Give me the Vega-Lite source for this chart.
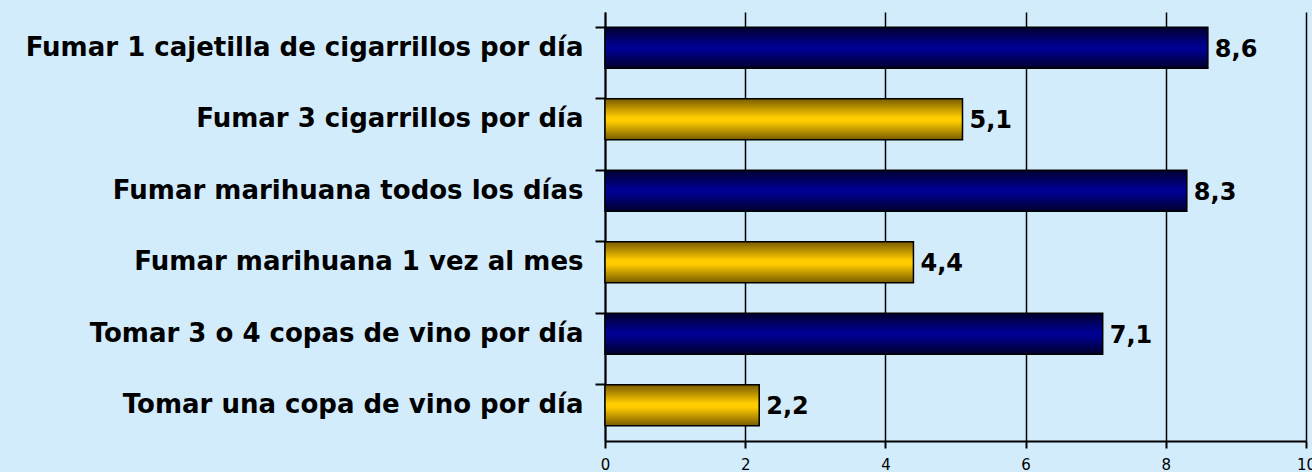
{
  "$schema": "https://vega.github.io/schema/vega-lite/v6.json",
  "autosize": "none",
  "width": 701,
  "height": 429,
  "padding": {"left": 605, "top": 12, "right": 6, "bottom": 31},
  "background": "#d3ecfc",
  "config": {
    "locale": {"number": {"decimal": ",", "thousands": ".", "grouping": [3], "currency": ["", " €"]}},
    "view": {"stroke": null},
    "font": "DejaVu Sans"
  },
  "data": {
    "values": [
      {"actividad": "Fumar 1 cajetilla de cigarrillos por día", "valor": 8.6, "grupo": "alto"},
      {"actividad": "Fumar 3 cigarrillos por día", "valor": 5.1, "grupo": "bajo"},
      {"actividad": "Fumar marihuana todos los días", "valor": 8.3, "grupo": "alto"},
      {"actividad": "Fumar marihuana 1 vez al mes", "valor": 4.4, "grupo": "bajo"},
      {"actividad": "Tomar 3 o 4 copas de vino por día", "valor": 7.1, "grupo": "alto"},
      {"actividad": "Tomar una copa de vino por día", "valor": 2.2, "grupo": "bajo"}
    ]
  },
  "encoding": {
    "y": {
      "field": "actividad",
      "type": "nominal",
      "sort": [
        "Fumar 1 cajetilla de cigarrillos por día",
        "Fumar 3 cigarrillos por día",
        "Fumar marihuana todos los días",
        "Fumar marihuana 1 vez al mes",
        "Tomar 3 o 4 copas de vino por día",
        "Tomar una copa de vino por día"
      ],
      "scale": {"paddingInner": 0.43, "paddingOuter": 0.215},
      "axis": {
        "title": null,
        "bandPosition": 0,
        "domainColor": "#000000",
        "domainWidth": 2,
        "tickColor": "#000000",
        "tickWidth": 2,
        "tickSize": 10,
        "labelPadding": 12,
        "labelFont": "DejaVu Sans",
        "labelFontWeight": "bold",
        "labelFontSize": 26,
        "labelColor": "#000000",
        "labelLimit": 700
      }
    },
    "x": {
      "field": "valor",
      "type": "quantitative",
      "scale": {"domain": [0, 10], "nice": false},
      "axis": {
        "title": null,
        "values": [0, 2, 4, 6, 8, 10],
        "format": "d",
        "grid": true,
        "gridColor": "#000000",
        "gridWidth": 1.5,
        "gridOpacity": 1,
        "domainColor": "#000000",
        "domainWidth": 2,
        "tickColor": "#000000",
        "tickWidth": 2,
        "tickSize": 7,
        "labelPadding": 9,
        "labelFont": "DejaVu Sans",
        "labelFontSize": 15,
        "labelColor": "#000000",
        "labelFlush": false
      }
    }
  },
  "layer": [
    {
      "transform": [{"filter": "datum.grupo === 'alto'"}],
      "mark": {
        "type": "bar",
        "stroke": "#000000",
        "strokeWidth": 1.5,
        "fill": {
          "gradient": "linear", "x1": 0, "y1": 0, "x2": 0, "y2": 1,
          "stops": [
            {"offset": 0, "color": "#00002e"},
            {"offset": 0.45, "color": "#000090"},
            {"offset": 0.55, "color": "#000090"},
            {"offset": 1, "color": "#00002e"}
          ]
        }
      }
    },
    {
      "transform": [{"filter": "datum.grupo === 'bajo'"}],
      "mark": {
        "type": "bar",
        "stroke": "#000000",
        "strokeWidth": 1.5,
        "fill": {
          "gradient": "linear", "x1": 0, "y1": 0, "x2": 0, "y2": 1,
          "stops": [
            {"offset": 0, "color": "#7a5c00"},
            {"offset": 0.45, "color": "#ffcc00"},
            {"offset": 0.55, "color": "#ffcc00"},
            {"offset": 1, "color": "#7a5c00"}
          ]
        }
      }
    },
    {
      "mark": {
        "type": "text",
        "align": "left",
        "baseline": "middle",
        "dx": 7,
        "dy": 2,
        "font": "DejaVu Sans",
        "fontWeight": "bold",
        "fontSize": 24,
        "color": "#000000"
      },
      "encoding": {
        "text": {"field": "valor", "type": "quantitative", "format": ".1f"}
      }
    }
  ]
}
